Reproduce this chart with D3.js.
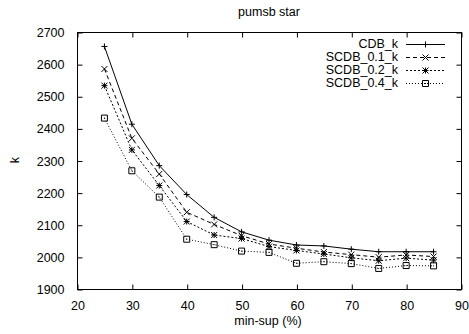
<!DOCTYPE html>
<html>
<head>
<meta charset="utf-8">
<script src="https://cdn.jsdelivr.net/npm/d3@7"></script>
<style>
  body { margin: 0; background: #fff; }
  text { font-family: "Liberation Sans", Arial, sans-serif; fill: #000; }
</style>
</head>
<body>
<div id="chart"></div>
<script>
// data
var minSup = [25, 30, 35, 40, 45, 50, 55, 60, 65, 70, 75, 80, 85];
var cdbK   = [2655, 2413, 2284, 2194, 2123, 2078, 2052, 2037, 2034, 2024, 2016, 2016, 2016];
var scdb01 = [2585, 2369, 2258, 2139, 2101, 2066, 2040, 2027, 2015, 2007, 1999, 2006, 2001];
var scdb02 = [2533, 2333, 2222, 2110, 2068, 2057, 2032, 2020, 2009, 1997, 1988, 1996, 1990];
var scdb04 = [2432, 2268, 2186, 2055, 2038, 2018, 2014, 1980, 1985, 1979, 1964, 1973, 1972];
var seriesNames = ["CDB_k", "SCDB_0.1_k", "SCDB_0.2_k", "SCDB_0.4_k"];
var xTicks = [20, 30, 40, 50, 60, 70, 80, 90];
var yTicks = [1900, 2000, 2100, 2200, 2300, 2400, 2500, 2600, 2700];

var W = 469, H = 334;
var margin = {top: 32, right: 8, bottom: 45, left: 77},
    width = W - margin.left - margin.right,
    height = H - margin.top - margin.bottom;

var x = d3.scaleLinear().domain([20, 90]).range([0, width]);
var y = d3.scaleLinear().domain([1900, 2700]).range([height, 0]);

var svg = d3.select("#chart").append("svg")
    .attr("width", W)
    .attr("height", H);

var g = svg.append("g")
    .attr("transform", "translate(" + margin.left + "," + margin.top + ")");

// frame
g.append("rect")
    .attr("x", 0.5).attr("y", 0.5)
    .attr("width", width).attr("height", height)
    .attr("fill", "none").attr("stroke", "#000").attr("stroke-width", 1);

// axes with inward ticks (mirrored on top and right)
function styleAxis(sel) {
  sel.select(".domain").remove();
  sel.selectAll(".tick line").attr("stroke", "#000");
  sel.selectAll("text").style("font-size", "12.5px");
}

g.append("g")
    .attr("transform", "translate(0.5," + (height + 0.5) + ")")
    .call(d3.axisBottom(x).tickValues(xTicks).tickFormat(d3.format("d"))
      .tickSizeInner(-5).tickSizeOuter(0).tickPadding(12))
    .call(styleAxis);

g.append("g")
    .attr("transform", "translate(0.5,0.5)")
    .call(d3.axisTop(x).tickValues(xTicks).tickSizeInner(-5).tickSizeOuter(0).tickFormat(""))
    .call(styleAxis);

g.append("g")
    .attr("transform", "translate(0.5,0.5)")
    .call(d3.axisLeft(y).tickValues(yTicks).tickFormat(d3.format("d"))
      .tickSizeInner(-5).tickSizeOuter(0).tickPadding(13))
    .call(styleAxis);

g.append("g")
    .attr("transform", "translate(" + (width + 0.5) + ",0.5)")
    .call(d3.axisRight(y).tickValues(yTicks).tickSizeInner(-5).tickSizeOuter(0).tickFormat(""))
    .call(styleAxis);

// titles
svg.append("text")
    .attr("x", 269).attr("y", 16)
    .attr("text-anchor", "middle")
    .style("font-size", "12.5px")
    .text("pumsb star");

svg.append("text")
    .attr("x", 268).attr("y", 325)
    .attr("text-anchor", "middle")
    .style("font-size", "12.5px")
    .text("min-sup (%)");

svg.append("text")
    .attr("transform", "translate(19,160) rotate(-90)")
    .attr("text-anchor", "middle")
    .style("font-size", "12.5px")
    .text("k");

// markers
function marker(type) {
  var s = 3;
  if (type === "plus") return "M" + (-s) + ",0H" + s + "M0," + (-s) + "V" + s;
  if (type === "cross") return "M" + (-s) + "," + (-s) + "L" + s + "," + s + "M" + (-s) + "," + s + "L" + s + "," + (-s);
  if (type === "star") return marker("plus") + marker("cross");
  return "M" + (-s) + "," + (-s) + "H" + s + "V" + s + "H" + (-s) + "Z M-0.5,0H0.5";
}

var series = [
  {name: seriesNames[0], values: cdbK,   dash: null,  mark: "plus"},
  {name: seriesNames[1], values: scdb01, dash: "4,3", mark: "cross"},
  {name: seriesNames[2], values: scdb02, dash: "2,2", mark: "star"},
  {name: seriesNames[3], values: scdb04, dash: "1,2", mark: "square"}
];

var line = d3.line()
    .x(function(d) { return x(d[0]); })
    .y(function(d) { return y(d[1]); });

series.forEach(function(s, i) {
  var pts = minSup.map(function(m, j) { return [m, s.values[j]]; });
  g.append("path")
      .datum(pts)
      .attr("d", line)
      .attr("fill", "none")
      .attr("stroke", "#000")
      .attr("stroke-width", 1)
      .attr("stroke-dasharray", s.dash);
  g.selectAll(".m" + i)
      .data(pts)
    .enter().append("path")
      .attr("class", "m" + i)
      .attr("transform", function(d) { return "translate(" + x(d[0]) + "," + y(d[1]) + ")"; })
      .attr("d", marker(s.mark))
      .attr("fill", "none")
      .attr("stroke", "#000")
      .attr("stroke-width", 1);

  // legend entry
  var ly = 44 + i * 13;
  svg.append("text")
      .attr("x", 398).attr("y", ly)
      .attr("dy", "0.35em")
      .attr("text-anchor", "end")
      .style("font-size", "12.5px")
      .text(s.name);
  svg.append("line")
      .attr("x1", 406).attr("x2", 445)
      .attr("y1", ly + 0.5).attr("y2", ly + 0.5)
      .attr("stroke", "#000")
      .attr("stroke-dasharray", s.dash);
  svg.append("path")
      .attr("transform", "translate(425.5," + (ly + 0.5) + ")")
      .attr("d", marker(s.mark))
      .attr("fill", "none")
      .attr("stroke", "#000");
});
</script>
</body>
</html>
